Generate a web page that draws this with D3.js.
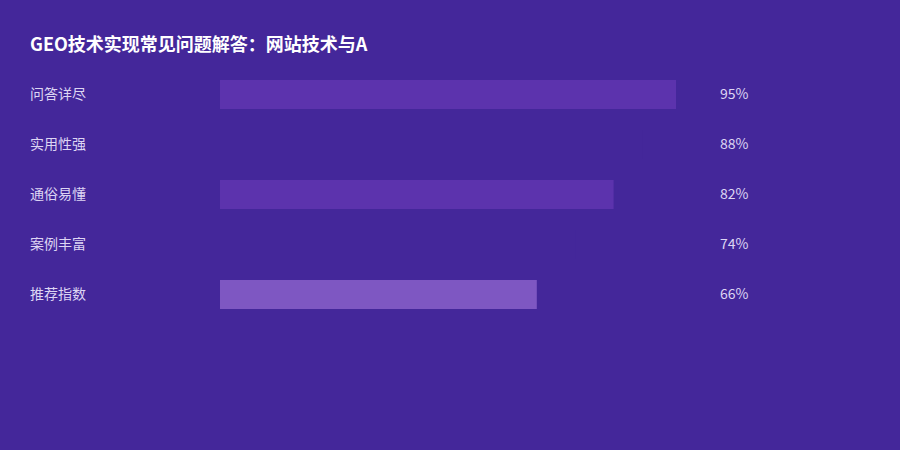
<!DOCTYPE html>
<html>
<head>
<meta charset="utf-8">
<script src="https://cdn.jsdelivr.net/npm/d3@7.9.0/dist/d3.min.js"></script>
<style>
  html, body { margin: 0; padding: 0; background: #44279a; }
  svg { display: block; font-family: "Noto Sans CJK SC", "Noto Sans", sans-serif; }
</style>
</head>
<body>
<div id="chart"></div>
<script>
const title = 'GEO技术实现常见问题解答：网站技术与A';
const categories = ['问答详尽', '实用性强', '通俗易懂', '案例丰富', '推荐指数'];
const values = [95, 88, 82, 74, 66];
const barColors = ['#5c33ad', '#44279a', '#5c33ad', '#44279a', '#7e57c2'];

const width = 900;
const height = 450;

const svg = d3
  .select('#chart')
  .append('svg')
  .attr('width', width)
  .attr('height', height);

svg.append('rect')
  .attr('width', width)
  .attr('height', height)
  .attr('fill', '#44279a');

// title
svg.append('text')
  .attr('x', 30)
  .attr('y', 51)
  .attr('fill', '#ffffff')
  .attr('font-size', 18)
  .attr('font-weight', 'bold')
  .text(title);

// scales
const xScale = d3
  .scaleLinear()
  .domain([0, 100])
  .range([220, 700]);

const yScale = d3
  .scaleBand()
  .domain(categories)
  .range([80, 309])
  .paddingInner(0.42)
  .paddingOuter(0);

const rows = categories.map((c, i) => ({ cat: c, value: values[i], color: barColors[i] }));

// bars
svg.append('g')
  .selectAll('rect')
  .data(rows)
  .join('rect')
  .attr('x', xScale(0))
  .attr('y', (d) => yScale(d.cat))
  .attr('width', (d) => xScale(d.value) - xScale(0))
  .attr('height', yScale.bandwidth())
  .attr('fill', (d) => d.color);

// category labels
svg.append('g')
  .selectAll('text')
  .data(rows)
  .join('text')
  .attr('x', 30)
  .attr('y', (d) => yScale(d.cat) + yScale.bandwidth() / 2)
  .attr('dy', '0.35em')
  .attr('fill', '#ddd5f3')
  .attr('font-size', 14)
  .text((d) => d.cat);

// value labels
svg.append('g')
  .selectAll('text')
  .data(rows)
  .join('text')
  .attr('x', 720)
  .attr('y', (d) => yScale(d.cat) + yScale.bandwidth() / 2)
  .attr('dy', '0.35em')
  .attr('fill', '#ddd5f3')
  .attr('font-size', 14)
  .text((d) => d.value + '%');
</script>
</body>
</html>
